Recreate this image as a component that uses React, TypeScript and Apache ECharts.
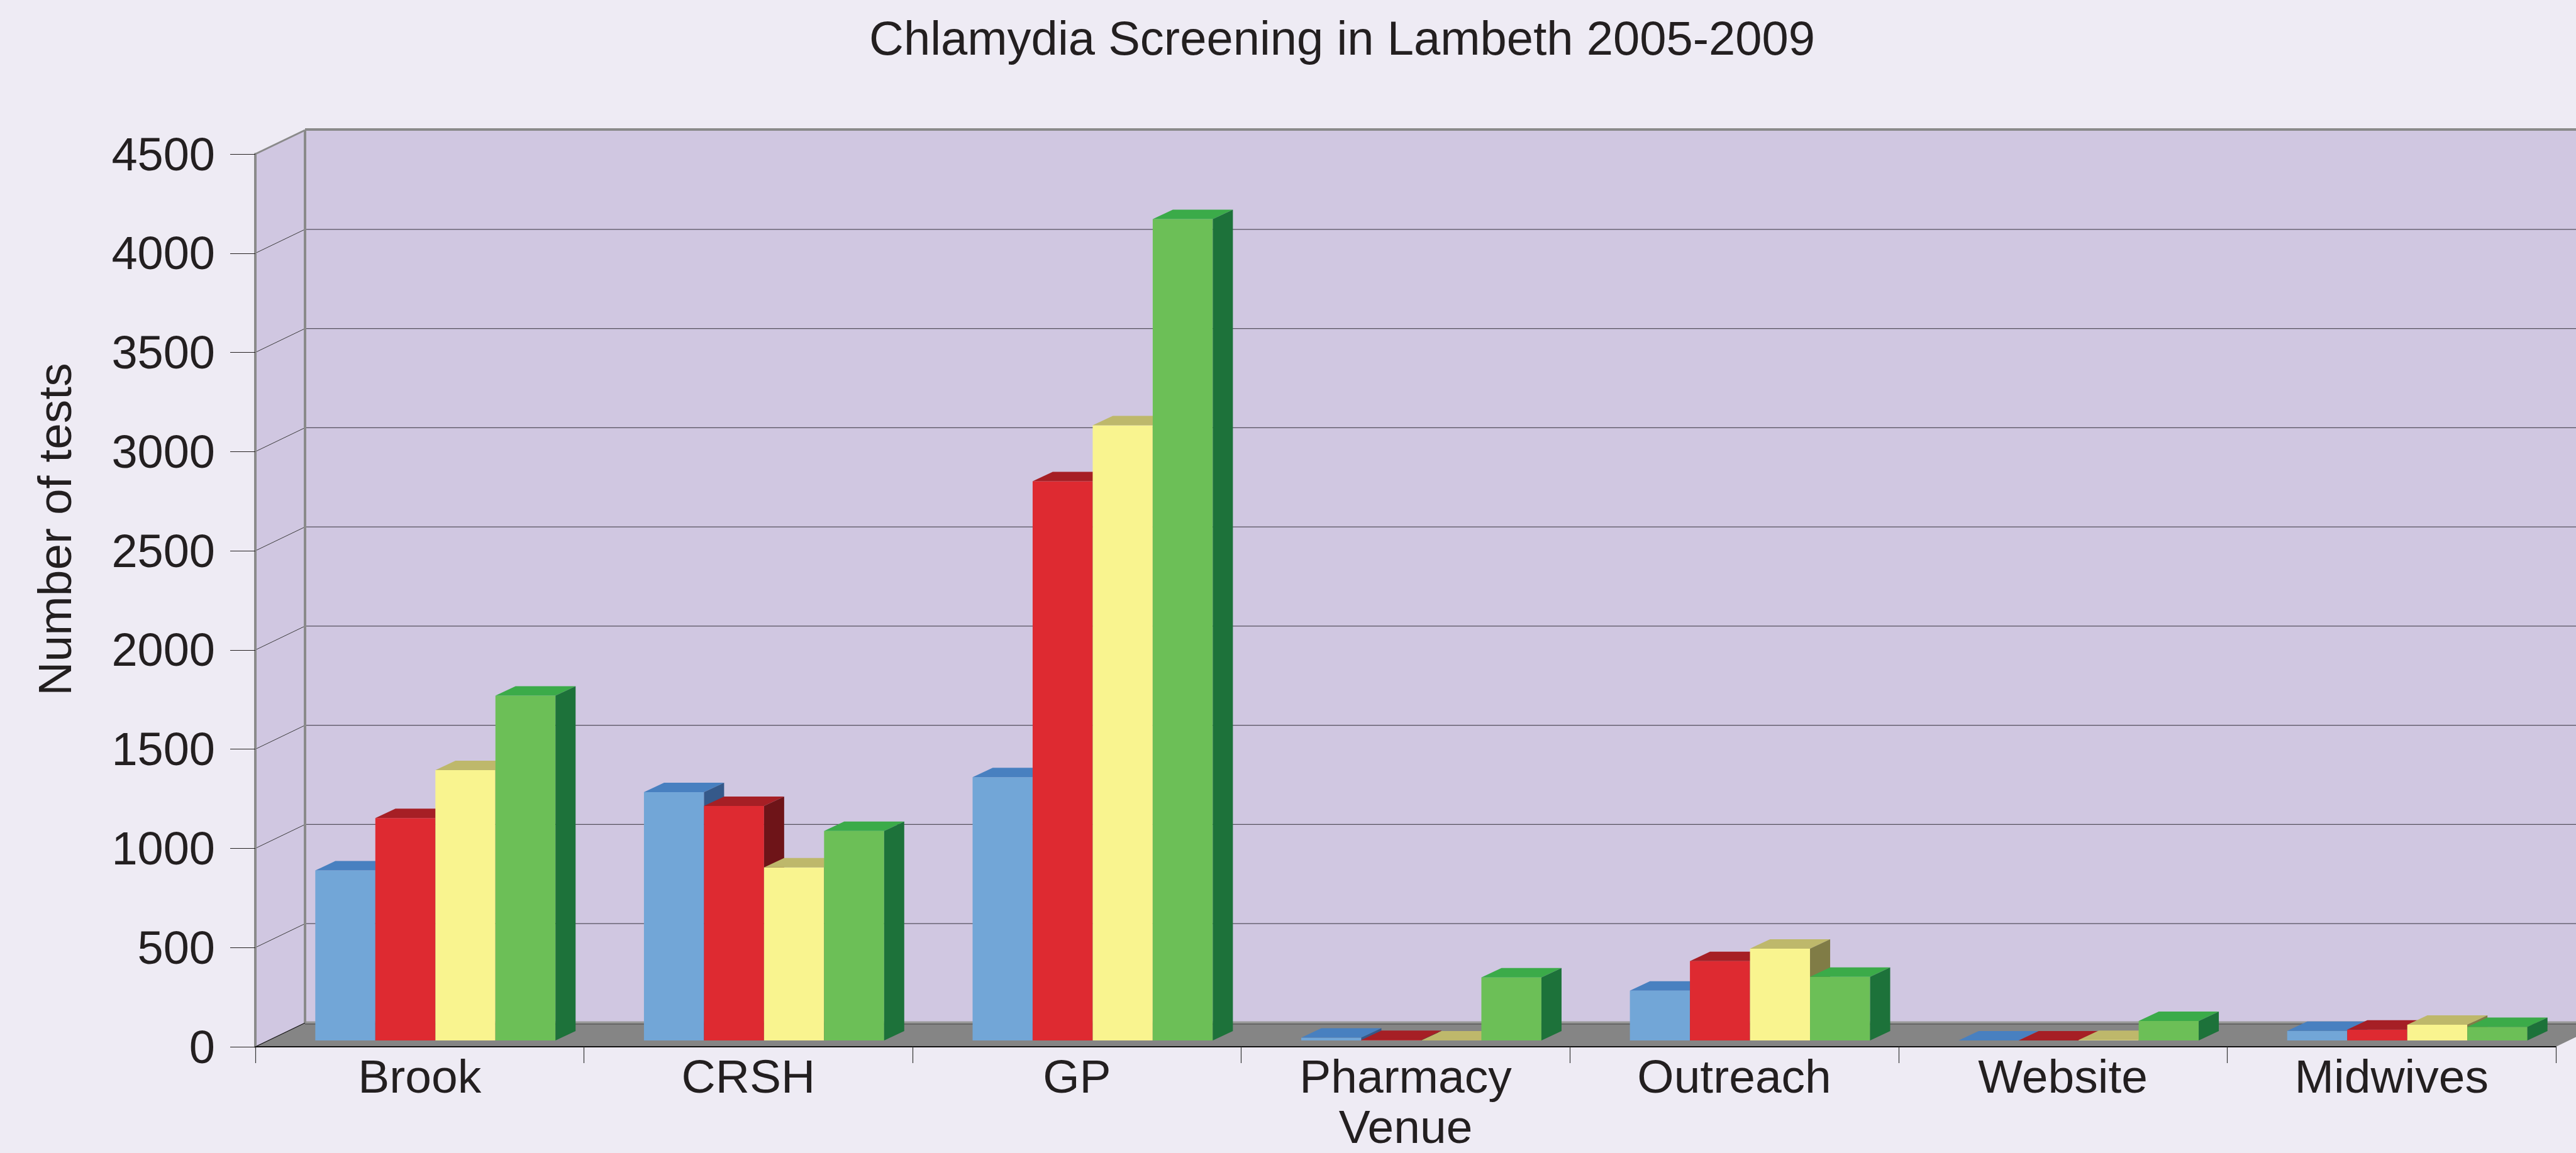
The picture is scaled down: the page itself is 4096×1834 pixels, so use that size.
import React, { useEffect, useRef } from "react";
import * as echarts from "echarts";

const categories = ["Brook", "CRSH", "GP", "Pharmacy", "Outreach", "Website", "Midwives"];
const seriesNames = ["2005/06", "2006/07", "2007/08", "2008/09"];
const values1 = [857, 1252, 1327, 14, 251, 0, 48];
const values2 = [1121, 1182, 2819, 2, 400, 0, 55];
const values3 = [1363, 872, 3101, 0, 463, 2, 79];
const values4 = [1738, 1056, 4140, 318, 321, 98, 68];
const yTicks = [0, 500, 1000, 1500, 2000, 2500, 3000, 3500, 4000, 4500];

const FONT = '"Liberation Sans", Arial, Helvetica, sans-serif';
const TEXT = "#231F20";
const BG = "#EEEBF4";
const WALL = "#D0C7E1";
const FLOOR = "#858585";
const EDGE = "#8A8A8A";

const faceColors = [
  { front: "#72A6D7", top: "#4880C0", side: "#35598A" },
  { front: "#DE2A31", top: "#A61F25", side: "#6E1418" },
  { front: "#F9F48F", top: "#BEB86B", side: "#807C46" },
  { front: "#6CBF57", top: "#3BAB49", side: "#1D723A" },
];

const WDX = 79;
const WDY = 38;
const BDX = 32;
const BDY = 15;
const LIFT = 10;
const SHIFT = 25;
const BAR_FRAC = 0.1827;

export default function App() {
  const ref = useRef<HTMLDivElement>(null);
  useEffect(() => {
    if (!ref.current) return;
    const chart = echarts.init(ref.current, null, { renderer: "svg" });
    const allValues = [values1, values2, values3, values4];

    const wallSeries = {
      type: "custom",
      name: "wall",
      silent: true,
      z: 1,
      data: yTicks.map((v) => [0, v]),
      encode: { x: 0, y: 1 },
      renderItem: (params: any, api: any) => {
        const cs = params.coordSys;
        const x0 = cs.x;
        const xR = cs.x + cs.width;
        const yT = cs.y;
        const yB = cs.y + cs.height;
        const v = api.value(1);
        const y = api.coord([0, v])[1];
        const children: any[] = [];
        if (v === yTicks[0]) {
          children.push({
            type: "rect",
            shape: { x: x0 + WDX, y: yT - WDY, width: xR - x0 + 200, height: yB - yT },
            style: { fill: WALL },
          });
          children.push({
            type: "polygon",
            shape: { points: [[x0, yT], [x0 + WDX, yT - WDY], [x0 + WDX, yB - WDY], [x0, yB]] },
            style: { fill: WALL },
          });
          children.push({
            type: "polygon",
            shape: { points: [[x0, yB], [x0 + WDX, yB - WDY], [xR + WDX, yB - WDY], [xR, yB]] },
            style: { fill: FLOOR },
          });
          children.push({
            type: "line",
            shape: { x1: x0 + WDX, y1: yB - WDY + 2, x2: xR + WDX + 200, y2: yB - WDY + 2 },
            style: { stroke: "#5E5E5E", lineWidth: 1.5 },
          });
          children.push({
            type: "line",
            shape: { x1: x0 + WDX, y1: yB - WDY - 1, x2: xR + WDX + 200, y2: yB - WDY - 1 },
            style: { stroke: "#9A9A9A", lineWidth: 3 },
          });
          children.push({
            type: "line",
            shape: { x1: x0, y1: yB, x2: x0 + WDX, y2: yB - WDY },
            style: { stroke: "#111", lineWidth: 1.2 },
          });
        } else if (v !== yTicks[yTicks.length - 1]) {
          children.push({
            type: "line",
            shape: { x1: x0 + WDX, y1: y - WDY, x2: xR + WDX + 200, y2: y - WDY },
            style: { stroke: "#55505E", lineWidth: 1.3 },
          });
          children.push({
            type: "line",
            shape: { x1: x0, y1: y, x2: x0 + WDX, y2: y - WDY },
            style: { stroke: "#3A3A3A", lineWidth: 1 },
          });
        } else {
          children.push({
            type: "line",
            shape: { x1: x0 + WDX, y1: yT - WDY - 1, x2: xR + WDX + 200, y2: yT - WDY - 1 },
            style: { stroke: EDGE, lineWidth: 4 },
          });
          children.push({
            type: "line",
            shape: { x1: x0 + WDX, y1: yT - WDY, x2: x0 + WDX, y2: yB - WDY },
            style: { stroke: EDGE, lineWidth: 4 },
          });
          children.push({
            type: "line",
            shape: { x1: x0, y1: yT, x2: x0 + WDX, y2: yT - WDY },
            style: { stroke: EDGE, lineWidth: 3 },
          });
        }
        return { type: "group", children };
      },
    };

    const barSeries = allValues.map((vals, si) => ({
      type: "custom",
      name: seriesNames[si],
      silent: true,
      z: 3,
      data: vals.map((v, ci) => [ci, v]),
      encode: { x: 0, y: 1 },
      renderItem: (params: any, api: any) => {
        const ci = api.value(0);
        const v = api.value(1);
        const band = api.size([1, 0])[0];
        const base = api.coord([ci, 0]);
        const topPt = api.coord([ci, v]);
        const bw = band * BAR_FRAC;
        const x = base[0] - 2 * bw + SHIFT + si * bw;
        const yb = base[1] - LIFT;
        const yt = topPt[1] - LIFT;
        const c = faceColors[si];
        return {
          type: "group",
          children: [
            {
              type: "rect",
              shape: { x, y: yt, width: bw, height: Math.max(yb - yt, 0) },
              style: { fill: c.front },
            },
            {
              type: "polygon",
              shape: { points: [[x, yt], [x + bw, yt], [x + bw + BDX, yt - BDY], [x + BDX, yt - BDY]] },
              style: { fill: c.top },
            },
            {
              type: "polygon",
              shape: { points: [[x + bw, yt], [x + bw + BDX, yt - BDY], [x + bw + BDX, yb - BDY], [x + bw, yb]] },
              style: { fill: c.side },
            },
          ],
        };
      },
    }));

    chart.setOption({
      animation: false,
      backgroundColor: BG,
      title: {
        text: "Chlamydia Screening in Lambeth 2005-2009",
        left: 1377,
        top: 17,
        textStyle: { fontSize: 76, fontWeight: "normal", fontFamily: FONT, color: TEXT },
      },
      grid: {
        left: 406,
        right: 32,
        top: 245,
        bottom: 169,
        containLabel: false,
        outerBoundsMode: "none",
      },
      xAxis: {
        type: "category",
        data: categories,
        boundaryGap: true,
        z: 10,
        name: "Venue",
        nameLocation: "middle",
        nameGap: 89,
        nameMoveOverlap: false,
        nameTextStyle: { fontSize: 75, fontFamily: FONT, color: TEXT },
        axisLine: { show: true, lineStyle: { color: "#111111", width: 2 } },
        axisTick: { show: true, length: 26, alignWithLabel: false, lineStyle: { color: "#333333", width: 1.2 } },
        axisLabel: { margin: 9, fontSize: 75, fontFamily: FONT, color: TEXT },
        splitLine: { show: false },
      },
      yAxis: {
        type: "value",
        min: 0,
        max: 4500,
        interval: 500,
        z: 10,
        axisLine: { show: true, lineStyle: { color: EDGE, width: 4 } },
        axisTick: { show: true, length: 40, lineStyle: { color: TEXT, width: 1.2 } },
        axisLabel: {
          margin: 64,
          fontSize: 74,
          fontFamily: FONT,
          color: TEXT,
          padding: [0, 0, 22, 0],
          formatter: (v: number) => String(v),
        },
        splitLine: { show: false },
      },
      graphic: [
        {
          type: "text",
          x: 87,
          y: 842,
          rotation: Math.PI / 2,
          style: {
            text: "Number of tests",
            font: `75px ${FONT}`,
            fill: TEXT,
            textAlign: "center",
            textVerticalAlign: "middle",
            align: "center",
            verticalAlign: "middle",
          },
        },
      ],
      series: [wallSeries, ...barSeries],
    });
    return () => chart.dispose();
  }, []);
  return (
    <div
      ref={ref}
      style={{ position: "fixed", left: 0, top: 0, width: 4096, height: 1834 }}
    />
  );
}
